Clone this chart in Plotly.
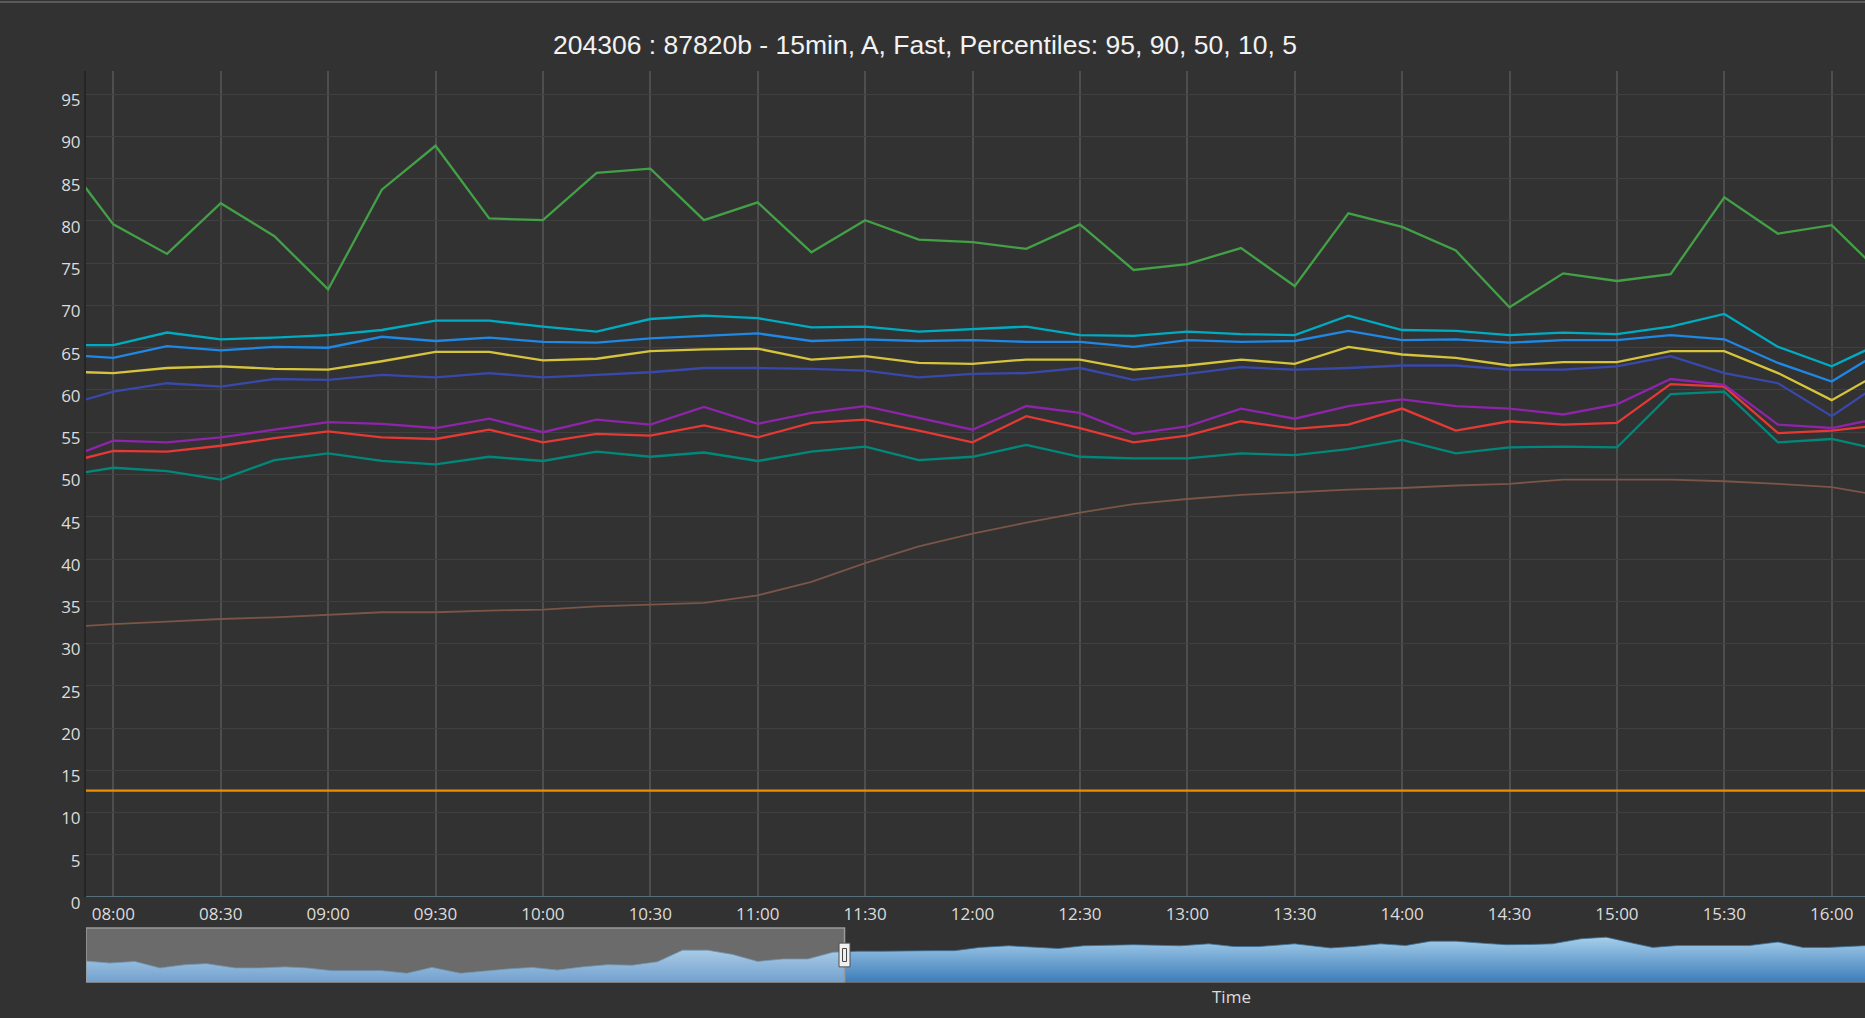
import plotly.graph_objects as go

DAY = "2024-01-01 "

time_labels = ["07:45", "08:00", "08:15", "08:30", "08:45", "09:00", "09:15", "09:30", "09:45",
               "10:00", "10:15", "10:30", "10:45", "11:00", "11:15", "11:30", "11:45",
               "12:00", "12:15", "12:30", "12:45", "13:00", "13:15", "13:30", "13:45",
               "14:00", "14:15", "14:30", "14:45", "15:00", "15:15", "15:30", "15:45",
               "16:00", "16:15"]

p_green = [88.0, 79.6, 76.1, 82.1, 78.2, 71.9, 83.7, 88.9, 80.3, 80.1, 85.7, 86.2, 80.1, 82.2,
           76.3, 80.1, 77.8, 77.5, 76.7, 79.6, 74.2, 74.9, 76.8, 72.3, 80.9, 79.3, 76.5, 69.8,
           73.8, 72.9, 73.7, 82.8, 78.5, 79.5, 73.3]
p_cyan = [65.3, 65.3, 66.8, 66.0, 66.2, 66.5, 67.1, 68.2, 68.2, 67.5, 66.9, 68.4, 68.8, 68.5,
          67.4, 67.5, 66.9, 67.2, 67.5, 66.5, 66.4, 66.9, 66.6, 66.5, 68.8, 67.1, 67.0, 66.5,
          66.8, 66.6, 67.5, 69.0, 65.1, 62.8, 65.8]
p_blue = [64.2, 63.8, 65.2, 64.7, 65.1, 65.0, 66.3, 65.8, 66.2, 65.7, 65.6, 66.1, 66.4, 66.7,
          65.8, 66.0, 65.8, 65.9, 65.7, 65.7, 65.1, 65.9, 65.7, 65.8, 67.0, 65.9, 66.0, 65.6,
          65.9, 65.9, 66.5, 66.0, 63.2, 61.0, 64.9]
p_yellow = [62.2, 62.0, 62.6, 62.8, 62.5, 62.4, 63.4, 64.5, 64.5, 63.5, 63.7, 64.6, 64.8, 64.9,
            63.6, 64.0, 63.2, 63.1, 63.6, 63.6, 62.4, 62.9, 63.6, 63.1, 65.1, 64.2, 63.8, 62.9,
            63.3, 63.3, 64.6, 64.6, 62.0, 58.8, 62.4]
p_indigo = [58.0, 59.8, 60.8, 60.4, 61.3, 61.2, 61.8, 61.5, 62.0, 61.5, 61.8, 62.1, 62.6, 62.6,
            62.5, 62.3, 61.5, 61.9, 62.0, 62.6, 61.2, 61.9, 62.7, 62.4, 62.6, 62.9, 62.9, 62.4,
            62.4, 62.8, 64.0, 62.0, 60.8, 56.9, 61.2]
p_purple = [51.6, 54.0, 53.8, 54.4, 55.3, 56.2, 56.0, 55.5, 56.6, 55.0, 56.5, 55.9, 58.0, 56.0,
            57.3, 58.1, 56.7, 55.3, 58.1, 57.3, 54.8, 55.7, 57.8, 56.6, 58.1, 58.9, 58.1, 57.8,
            57.1, 58.3, 61.3, 60.6, 55.9, 55.5, 56.8]
p_red = [51.2, 52.8, 52.7, 53.4, 54.3, 55.1, 54.4, 54.2, 55.3, 53.8, 54.8, 54.6, 55.8, 54.4,
         56.1, 56.5, 55.2, 53.8, 56.9, 55.5, 53.8, 54.6, 56.3, 55.4, 55.9, 57.8, 55.2, 56.3,
         55.9, 56.1, 60.7, 60.4, 54.9, 55.2, 55.9]
p_teal = [49.8, 50.8, 50.4, 49.4, 51.7, 52.5, 51.6, 51.2, 52.1, 51.6, 52.7, 52.1, 52.6, 51.6,
          52.7, 53.3, 51.7, 52.1, 53.5, 52.1, 51.9, 51.9, 52.5, 52.3, 53.0, 54.1, 52.5, 53.2,
          53.3, 53.2, 59.5, 59.8, 53.8, 54.2, 52.8]
p_brown = [31.9, 32.3, 32.6, 32.9, 33.1, 33.4, 33.7, 33.7, 33.9, 34.0, 34.4, 34.6, 34.8, 35.7,
           37.3, 39.5, 41.5, 43.0, 44.3, 45.5, 46.5, 47.1, 47.6, 47.9, 48.2, 48.4, 48.7, 48.9,
           49.4, 49.4, 49.4, 49.2, 48.9, 48.5, 47.4]
p_orange = [12.6, 12.6, 12.6, 12.6, 12.6, 12.6, 12.6, 12.6, 12.6, 12.6, 12.6, 12.6, 12.6, 12.6,
            12.6, 12.6, 12.6, 12.6, 12.6, 12.6, 12.6, 12.6, 12.6, 12.6, 12.6, 12.6, 12.6, 12.6,
            12.6, 12.6, 12.6, 12.6, 12.6, 12.6, 12.6]
p_zero = [0, 0, 0, 0, 0, 0, 0, 0, 0, 0, 0, 0, 0, 0, 0, 0, 0, 0, 0, 0, 0, 0, 0, 0, 0, 0, 0, 0,
          0, 0, 0, 0, 0, 0, 0]

slider_times = ["07:52", "07:59", "08:06", "08:13", "08:20", "08:26", "08:34", "08:41", "08:48",
                "08:54", "09:01", "09:08", "09:15", "09:22", "09:29", "09:37", "09:44", "09:50",
                "09:57", "10:04", "10:11", "10:18", "10:25", "10:32", "10:39", "10:46", "10:53",
                "11:00", "11:07", "11:14", "11:21", "11:28", "11:35", "11:42", "11:49", "11:55",
                "12:02", "12:10", "12:17", "12:24", "12:31", "12:38", "12:45", "12:52", "12:58",
                "13:06", "13:13", "13:20", "13:30", "13:40", "13:47", "13:54", "14:01", "14:08",
                "14:15", "14:22", "14:29", "14:36", "14:42", "14:50", "14:57", "15:03", "15:10",
                "15:17", "15:24", "15:31", "15:37", "15:45", "15:52", "15:59", "16:06", "16:10"]
slider_values = [39, 35, 38, 26, 32, 34, 26, 26, 28, 26, 21, 21, 21, 16, 27, 16, 21, 24,
                 27, 22, 28, 32, 31, 37.5, 59, 59, 51, 38, 42.5, 42.5, 55, 57, 57, 58, 58, 58,
                 64, 67, 65, 62, 67, 68, 69, 68, 67, 70.6, 65.6, 65.6, 70.6, 63, 66, 70.6, 67.5, 75.6,
                 75.6, 72, 69, 69.5, 70.6, 80, 83, 74, 64, 67.5, 67.5, 67.5, 67.5, 74, 64, 64, 66, 67.5]

view_start = "07:52:22"
view_end = "16:09:18"
handle_time = "11:24:15"

title_text = "204306 : 87820b - 15min, A, Fast, Percentiles: 95, 90, 50, 10, 5"
y_ticks = [0, 5, 10, 15, 20, 25, 30, 35, 40, 45, 50, 55, 60, 65, 70, 75, 80, 85, 90, 95]

x = [DAY + t for t in time_labels]

series = [
    (p_zero, "#546E7A", 2.2),
    (p_orange, "#F08C00", 2.2),
    (p_brown, "#7A5548", 1.8),
    (p_teal, "#00897B", 2.3),
    (p_red, "#E53935", 2.3),
    (p_purple, "#8E24AA", 2.3),
    (p_indigo, "#3949AB", 2.3),
    (p_yellow, "#D6C43C", 2.3),
    (p_blue, "#1E88E5", 2.3),
    (p_cyan, "#00ACC1", 2.3),
    (p_green, "#43A047", 2.3),
]

fig = go.Figure()
for vals, col, w in series:
    fig.add_trace(go.Scatter(x=x, y=vals, mode="lines", line=dict(color=col, width=w),
                             xaxis="x", yaxis="y", showlegend=False, hoverinfo="skip"))

fig.add_trace(go.Scatter(
    x=[DAY + t for t in slider_times], y=slider_values, mode="lines", fill="tozeroy",
    fillgradient=dict(type="vertical", colorscale=[[0, "#3d7dbb"], [1, "#a8d0ea"]], start=0, stop=85),
    line=dict(width=0.8, color="#3a6e98"), xaxis="x2", yaxis="y2", showlegend=False, hoverinfo="skip"))

bg = "#323232"
tickfont = dict(family="Open Sans", size=17, color="#dcdcdc")
xr = [DAY + view_start, DAY + view_end]

fig.update_layout(
    width=1865, height=1018,
    paper_bgcolor=bg, plot_bgcolor=bg,
    margin=dict(l=86, r=0, t=71, b=36),
    title=dict(text=title_text, x=925 / 1865, xref="container", xanchor="center",
               y=1 - 45 / 1018, yref="container", yanchor="middle",
               font=dict(family="Liberation Sans, Arial", size=26.5, color="#f2f2f2")),
    xaxis=dict(domain=[0, 1], anchor="y", range=xr, type="date", dtick=30 * 60 * 1000,
               tick0=DAY + "08:00", tickformat="%H:%M", showgrid=True, gridcolor="#4e4e4e",
               gridwidth=1.5, showline=False, ticks="", tickfont=tickfont, zeroline=False,
               ticklabelstandoff=5),
    yaxis=dict(domain=[0.0933, 1], anchor="x", range=[0, 97.75], tickvals=y_ticks,
               gridcolor="#404040", gridwidth=1, showline=True, linecolor="#252525",
               linewidth=2, ticks="", tickfont=tickfont, zeroline=False,
               ticklabelshift=6),
    xaxis2=dict(domain=[0, 1], anchor="y2", range=xr, type="date", showgrid=False,
                showticklabels=False, zeroline=False, showline=False),
    yaxis2=dict(domain=[0, 0.0593], anchor="x2", range=[0, 100], showgrid=False,
                showticklabels=False, zeroline=False, showline=False),
    shapes=[
        dict(type="rect", xref="x2", yref="y2 domain", x0=xr[0], x1=DAY + handle_time, y0=0, y1=1,
             fillcolor="rgba(255,255,255,0.28)", line=dict(color="#9a9a9a", width=1.5), layer="above"),
        dict(type="line", xref="x2", yref="y2 domain", x0=DAY + handle_time, x1=xr[1], y0=0, y1=0,
             line=dict(color="#7a7a7a", width=1.5), layer="above"),
        dict(type="rect", xref="x2", yref="y2 domain", xsizemode="pixel", xanchor=DAY + handle_time,
             x0=-5.5, x1=5.5, y0=0.28, y1=0.72, fillcolor="#f0f0f0",
             line=dict(color="#505050", width=1), layer="above"),
        dict(type="rect", xref="x2", yref="y2 domain", xsizemode="pixel", xanchor=DAY + handle_time,
             x0=-2, x1=2, y0=0.38, y1=0.62, fillcolor="#f0f0f0",
             line=dict(color="#444444", width=1), layer="above"),
        dict(type="line", xref="paper", yref="paper", x0=-0.06, x1=1.0, y0=1.0757, y1=1.0757,
             line=dict(color="#5a5a5a", width=2)),
    ],
    annotations=[
        dict(text="Time", xref="paper", yref="paper", x=(1231 - 86) / 1779, y=0,
             xanchor="center", yanchor="top", yshift=-1, showarrow=False,
             font=dict(family="Open Sans", size=17, color="#dcdcdc")),
    ],
)

fig.write_html("out.html", config={"displayModeBar": False},
               post_script="document.body.style.margin='0px';document.body.style.overflow='hidden';")
